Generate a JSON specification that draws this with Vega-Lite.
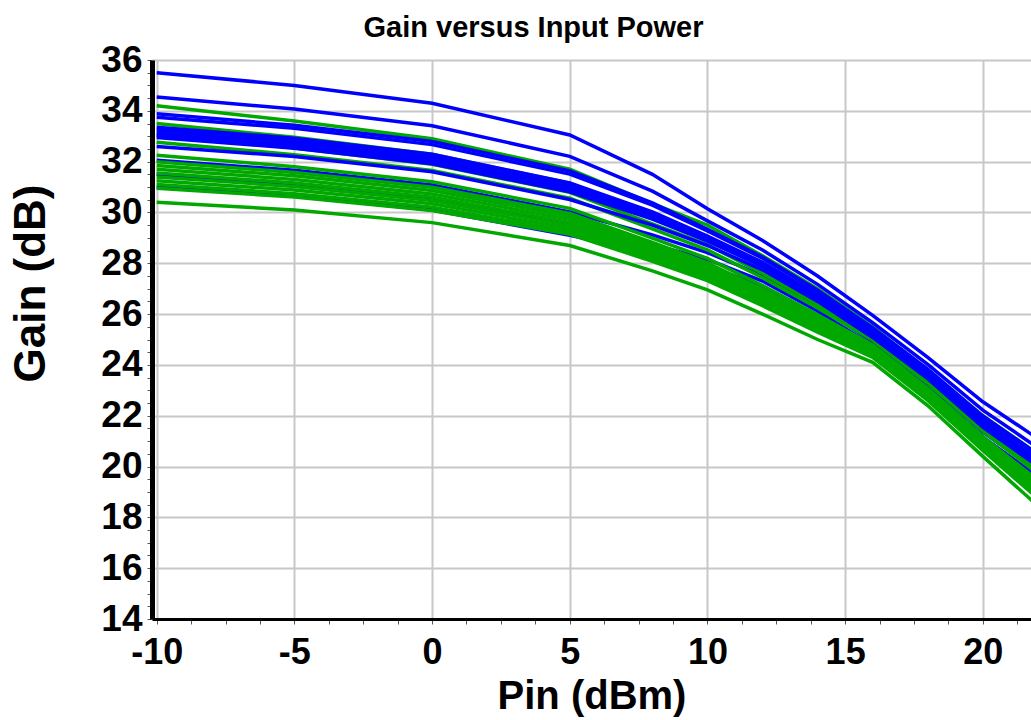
{
"$schema": "https://vega.github.io/schema/vega-lite/v6.json",
"width": 879, "height": 559,
"autosize": {"type": "none"},
"padding": {"left": 152, "top": 60, "right": 0, "bottom": 101},
"background": "white",
"title": {"text": "Gain versus Input Power", "font": "Liberation Sans", "fontSize": 29, "fontWeight": "bold", "color": "black", "frame": "group", "anchor": "middle", "dx": -58, "dy": 29, "baseline": "alphabetic", "offset": 4},
"config": {"view": {"stroke": null}},
"datasets": {
"curves": [
{"s":"b13","c":"blue","x":-10,"y":31.0},{"s":"b13","c":"blue","x":-5,"y":30.65},{"s":"b13","c":"blue","x":0,"y":30.1},{"s":"b13","c":"blue","x":5,"y":29.1},{"s":"b13","c":"blue","x":8,"y":28.4},{"s":"b13","c":"blue","x":10,"y":27.9},{"s":"b13","c":"blue","x":12,"y":27.1},{"s":"b13","c":"blue","x":14,"y":25.95},{"s":"b13","c":"blue","x":16,"y":24.6},{"s":"b13","c":"blue","x":18,"y":23.0},{"s":"b13","c":"blue","x":20,"y":21.0},{"s":"b13","c":"blue","x":22,"y":19.4},
{"s":"b12","c":"blue","x":-10,"y":31.5},{"s":"b12","c":"blue","x":-5,"y":31.13},{"s":"b12","c":"blue","x":0,"y":30.57},{"s":"b12","c":"blue","x":5,"y":29.54},{"s":"b12","c":"blue","x":8,"y":28.74},{"s":"b12","c":"blue","x":10,"y":28.15},{"s":"b12","c":"blue","x":12,"y":27.3},{"s":"b12","c":"blue","x":14,"y":26.12},{"s":"b12","c":"blue","x":16,"y":24.75},{"s":"b12","c":"blue","x":18,"y":23.14},{"s":"b12","c":"blue","x":20,"y":21.17},{"s":"b12","c":"blue","x":22,"y":19.59},
{"s":"b11","c":"blue","x":-10,"y":32.05},{"s":"b11","c":"blue","x":-5,"y":31.66},{"s":"b11","c":"blue","x":0,"y":31.08},{"s":"b11","c":"blue","x":5,"y":30.02},{"s":"b11","c":"blue","x":8,"y":29.12},{"s":"b11","c":"blue","x":10,"y":28.42},{"s":"b11","c":"blue","x":12,"y":27.52},{"s":"b11","c":"blue","x":14,"y":26.31},{"s":"b11","c":"blue","x":16,"y":24.91},{"s":"b11","c":"blue","x":18,"y":23.3},{"s":"b11","c":"blue","x":20,"y":21.36},{"s":"b11","c":"blue","x":22,"y":19.8},
{"s":"g14","c":"green","x":-10,"y":30.4},{"s":"g14","c":"green","x":-5,"y":30.1},{"s":"g14","c":"green","x":0,"y":29.6},{"s":"g14","c":"green","x":5,"y":28.7},{"s":"g14","c":"green","x":8,"y":27.7},{"s":"g14","c":"green","x":10,"y":26.95},{"s":"g14","c":"green","x":12,"y":26.0},{"s":"g14","c":"green","x":14,"y":25.0},{"s":"g14","c":"green","x":16,"y":24.1},{"s":"g14","c":"green","x":18,"y":22.4},{"s":"g14","c":"green","x":20,"y":20.4},{"s":"g14","c":"green","x":22,"y":18.45},
{"s":"g13","c":"green","x":-10,"y":30.95},{"s":"g13","c":"green","x":-5,"y":30.61},{"s":"g13","c":"green","x":0,"y":30.08},{"s":"g13","c":"green","x":5,"y":29.14},{"s":"g13","c":"green","x":8,"y":28.08},{"s":"g13","c":"green","x":10,"y":27.32},{"s":"g13","c":"green","x":12,"y":26.33},{"s":"g13","c":"green","x":14,"y":25.29},{"s":"g13","c":"green","x":16,"y":24.3},{"s":"g13","c":"green","x":18,"y":22.6},{"s":"g13","c":"green","x":20,"y":20.63},{"s":"g13","c":"green","x":22,"y":18.75},
{"s":"g12","c":"green","x":-10,"y":31.1},{"s":"g12","c":"green","x":-5,"y":30.74},{"s":"g12","c":"green","x":0,"y":30.21},{"s":"g12","c":"green","x":5,"y":29.25},{"s":"g12","c":"green","x":8,"y":28.19},{"s":"g12","c":"green","x":10,"y":27.42},{"s":"g12","c":"green","x":12,"y":26.42},{"s":"g12","c":"green","x":14,"y":25.37},{"s":"g12","c":"green","x":16,"y":24.36},{"s":"g12","c":"green","x":18,"y":22.66},{"s":"g12","c":"green","x":20,"y":20.69},{"s":"g12","c":"green","x":22,"y":18.83},
{"s":"g11","c":"green","x":-10,"y":31.25},{"s":"g11","c":"green","x":-5,"y":30.88},{"s":"g11","c":"green","x":0,"y":30.34},{"s":"g11","c":"green","x":5,"y":29.37},{"s":"g11","c":"green","x":8,"y":28.29},{"s":"g11","c":"green","x":10,"y":27.52},{"s":"g11","c":"green","x":12,"y":26.52},{"s":"g11","c":"green","x":14,"y":25.45},{"s":"g11","c":"green","x":16,"y":24.41},{"s":"g11","c":"green","x":18,"y":22.71},{"s":"g11","c":"green","x":20,"y":20.76},{"s":"g11","c":"green","x":22,"y":18.91},
{"s":"g10","c":"green","x":-10,"y":31.4},{"s":"g10","c":"green","x":-5,"y":31.02},{"s":"g10","c":"green","x":0,"y":30.47},{"s":"g10","c":"green","x":5,"y":29.49},{"s":"g10","c":"green","x":8,"y":28.4},{"s":"g10","c":"green","x":10,"y":27.62},{"s":"g10","c":"green","x":12,"y":26.6},{"s":"g10","c":"green","x":14,"y":25.53},{"s":"g10","c":"green","x":16,"y":24.47},{"s":"g10","c":"green","x":18,"y":22.77},{"s":"g10","c":"green","x":20,"y":20.82},{"s":"g10","c":"green","x":22,"y":18.99},
{"s":"g09","c":"green","x":-10,"y":31.55},{"s":"g09","c":"green","x":-5,"y":31.16},{"s":"g09","c":"green","x":0,"y":30.6},{"s":"g09","c":"green","x":5,"y":29.61},{"s":"g09","c":"green","x":8,"y":28.5},{"s":"g09","c":"green","x":10,"y":27.72},{"s":"g09","c":"green","x":12,"y":26.7},{"s":"g09","c":"green","x":14,"y":25.61},{"s":"g09","c":"green","x":16,"y":24.52},{"s":"g09","c":"green","x":18,"y":22.82},{"s":"g09","c":"green","x":20,"y":20.88},{"s":"g09","c":"green","x":22,"y":19.07},
{"s":"g08","c":"green","x":-10,"y":31.7},{"s":"g08","c":"green","x":-5,"y":31.3},{"s":"g08","c":"green","x":0,"y":30.73},{"s":"g08","c":"green","x":5,"y":29.73},{"s":"g08","c":"green","x":8,"y":28.61},{"s":"g08","c":"green","x":10,"y":27.82},{"s":"g08","c":"green","x":12,"y":26.79},{"s":"g08","c":"green","x":14,"y":25.68},{"s":"g08","c":"green","x":16,"y":24.58},{"s":"g08","c":"green","x":18,"y":22.88},{"s":"g08","c":"green","x":20,"y":20.95},{"s":"g08","c":"green","x":22,"y":19.15},
{"s":"g07","c":"green","x":-10,"y":31.85},{"s":"g07","c":"green","x":-5,"y":31.44},{"s":"g07","c":"green","x":0,"y":30.86},{"s":"g07","c":"green","x":5,"y":29.85},{"s":"g07","c":"green","x":8,"y":28.71},{"s":"g07","c":"green","x":10,"y":27.92},{"s":"g07","c":"green","x":12,"y":26.88},{"s":"g07","c":"green","x":14,"y":25.76},{"s":"g07","c":"green","x":16,"y":24.63},{"s":"g07","c":"green","x":18,"y":22.93},{"s":"g07","c":"green","x":20,"y":21.01},{"s":"g07","c":"green","x":22,"y":19.23},
{"s":"g06","c":"green","x":-10,"y":32.0},{"s":"g06","c":"green","x":-5,"y":31.57},{"s":"g06","c":"green","x":0,"y":30.99},{"s":"g06","c":"green","x":5,"y":29.96},{"s":"g06","c":"green","x":8,"y":28.82},{"s":"g06","c":"green","x":10,"y":28.02},{"s":"g06","c":"green","x":12,"y":26.97},{"s":"g06","c":"green","x":14,"y":25.84},{"s":"g06","c":"green","x":16,"y":24.69},{"s":"g06","c":"green","x":18,"y":22.99},{"s":"g06","c":"green","x":20,"y":21.07},{"s":"g06","c":"green","x":22,"y":19.31},
{"s":"g05","c":"green","x":-10,"y":32.25},{"s":"g05","c":"green","x":-5,"y":31.8},{"s":"g05","c":"green","x":0,"y":31.21},{"s":"g05","c":"green","x":5,"y":30.16},{"s":"g05","c":"green","x":8,"y":28.99},{"s":"g05","c":"green","x":10,"y":28.19},{"s":"g05","c":"green","x":12,"y":27.12},{"s":"g05","c":"green","x":14,"y":25.97},{"s":"g05","c":"green","x":16,"y":24.78},{"s":"g05","c":"green","x":18,"y":23.08},{"s":"g05","c":"green","x":20,"y":21.18},{"s":"g05","c":"green","x":22,"y":19.45},
{"s":"g04","c":"green","x":-10,"y":32.76},{"s":"g04","c":"green","x":-5,"y":32.27},{"s":"g04","c":"green","x":0,"y":31.65},{"s":"g04","c":"green","x":5,"y":30.56},{"s":"g04","c":"green","x":8,"y":29.35},{"s":"g04","c":"green","x":10,"y":28.53},{"s":"g04","c":"green","x":12,"y":27.43},{"s":"g04","c":"green","x":14,"y":26.24},{"s":"g04","c":"green","x":16,"y":24.97},{"s":"g04","c":"green","x":18,"y":23.27},{"s":"g04","c":"green","x":20,"y":21.39},{"s":"g04","c":"green","x":22,"y":19.72},
{"s":"g03","c":"green","x":-10,"y":33.05},{"s":"g03","c":"green","x":-5,"y":32.54},{"s":"g03","c":"green","x":0,"y":31.9},{"s":"g03","c":"green","x":5,"y":30.79},{"s":"g03","c":"green","x":8,"y":29.55},{"s":"g03","c":"green","x":10,"y":28.73},{"s":"g03","c":"green","x":12,"y":27.6},{"s":"g03","c":"green","x":14,"y":26.39},{"s":"g03","c":"green","x":16,"y":25.08},{"s":"g03","c":"green","x":18,"y":23.38},{"s":"g03","c":"green","x":20,"y":21.52},{"s":"g03","c":"green","x":22,"y":19.88},
{"s":"g02","c":"green","x":-10,"y":33.5},{"s":"g02","c":"green","x":-5,"y":32.96},{"s":"g02","c":"green","x":0,"y":32.29},{"s":"g02","c":"green","x":5,"y":31.15},{"s":"g02","c":"green","x":8,"y":29.86},{"s":"g02","c":"green","x":10,"y":29.03},{"s":"g02","c":"green","x":12,"y":27.88},{"s":"g02","c":"green","x":14,"y":26.63},{"s":"g02","c":"green","x":16,"y":25.24},{"s":"g02","c":"green","x":18,"y":23.54},{"s":"g02","c":"green","x":20,"y":21.71},{"s":"g02","c":"green","x":22,"y":20.12},
{"s":"g01","c":"green","x":-10,"y":34.2},{"s":"g01","c":"green","x":-5,"y":33.6},{"s":"g01","c":"green","x":0,"y":32.9},{"s":"g01","c":"green","x":5,"y":31.7},{"s":"g01","c":"green","x":8,"y":30.35},{"s":"g01","c":"green","x":10,"y":29.5},{"s":"g01","c":"green","x":12,"y":28.3},{"s":"g01","c":"green","x":14,"y":27.0},{"s":"g01","c":"green","x":16,"y":25.5},{"s":"g01","c":"green","x":18,"y":23.8},{"s":"g01","c":"green","x":20,"y":22.0},{"s":"g01","c":"green","x":22,"y":20.5},
{"s":"b10","c":"blue","x":-10,"y":32.6},{"s":"b10","c":"blue","x":-5,"y":32.2},{"s":"b10","c":"blue","x":0,"y":31.6},{"s":"b10","c":"blue","x":5,"y":30.51},{"s":"b10","c":"blue","x":8,"y":29.5},{"s":"b10","c":"blue","x":10,"y":28.7},{"s":"b10","c":"blue","x":12,"y":27.74},{"s":"b10","c":"blue","x":14,"y":26.5},{"s":"b10","c":"blue","x":16,"y":25.08},{"s":"b10","c":"blue","x":18,"y":23.46},{"s":"b10","c":"blue","x":20,"y":21.55},{"s":"b10","c":"blue","x":22,"y":20.01},
{"s":"b09","c":"blue","x":-10,"y":32.95},{"s":"b09","c":"blue","x":-5,"y":32.53},{"s":"b09","c":"blue","x":0,"y":31.92},{"s":"b09","c":"blue","x":5,"y":30.81},{"s":"b09","c":"blue","x":8,"y":29.74},{"s":"b09","c":"blue","x":10,"y":28.87},{"s":"b09","c":"blue","x":12,"y":27.88},{"s":"b09","c":"blue","x":14,"y":26.62},{"s":"b09","c":"blue","x":16,"y":25.18},{"s":"b09","c":"blue","x":18,"y":23.56},{"s":"b09","c":"blue","x":20,"y":21.67},{"s":"b09","c":"blue","x":22,"y":20.14},
{"s":"b08","c":"blue","x":-10,"y":33.05},{"s":"b08","c":"blue","x":-5,"y":32.63},{"s":"b08","c":"blue","x":0,"y":32.02},{"s":"b08","c":"blue","x":5,"y":30.9},{"s":"b08","c":"blue","x":8,"y":29.81},{"s":"b08","c":"blue","x":10,"y":28.93},{"s":"b08","c":"blue","x":12,"y":27.92},{"s":"b08","c":"blue","x":14,"y":26.66},{"s":"b08","c":"blue","x":16,"y":25.22},{"s":"b08","c":"blue","x":18,"y":23.59},{"s":"b08","c":"blue","x":20,"y":21.71},{"s":"b08","c":"blue","x":22,"y":20.18},
{"s":"b07","c":"blue","x":-10,"y":33.15},{"s":"b07","c":"blue","x":-5,"y":32.73},{"s":"b07","c":"blue","x":0,"y":32.11},{"s":"b07","c":"blue","x":5,"y":30.99},{"s":"b07","c":"blue","x":8,"y":29.88},{"s":"b07","c":"blue","x":10,"y":28.98},{"s":"b07","c":"blue","x":12,"y":27.96},{"s":"b07","c":"blue","x":14,"y":26.69},{"s":"b07","c":"blue","x":16,"y":25.25},{"s":"b07","c":"blue","x":18,"y":23.62},{"s":"b07","c":"blue","x":20,"y":21.74},{"s":"b07","c":"blue","x":22,"y":20.21},
{"s":"b06","c":"blue","x":-10,"y":33.25},{"s":"b06","c":"blue","x":-5,"y":32.83},{"s":"b06","c":"blue","x":0,"y":32.2},{"s":"b06","c":"blue","x":5,"y":31.08},{"s":"b06","c":"blue","x":8,"y":29.95},{"s":"b06","c":"blue","x":10,"y":29.03},{"s":"b06","c":"blue","x":12,"y":28.0},{"s":"b06","c":"blue","x":14,"y":26.73},{"s":"b06","c":"blue","x":16,"y":25.28},{"s":"b06","c":"blue","x":18,"y":23.65},{"s":"b06","c":"blue","x":20,"y":21.78},{"s":"b06","c":"blue","x":22,"y":20.25},
{"s":"b05","c":"blue","x":-10,"y":33.35},{"s":"b05","c":"blue","x":-5,"y":32.92},{"s":"b05","c":"blue","x":0,"y":32.29},{"s":"b05","c":"blue","x":5,"y":31.16},{"s":"b05","c":"blue","x":8,"y":30.02},{"s":"b05","c":"blue","x":10,"y":29.07},{"s":"b05","c":"blue","x":12,"y":28.04},{"s":"b05","c":"blue","x":14,"y":26.76},{"s":"b05","c":"blue","x":16,"y":25.3},{"s":"b05","c":"blue","x":18,"y":23.68},{"s":"b05","c":"blue","x":20,"y":21.81},{"s":"b05","c":"blue","x":22,"y":20.29},
{"s":"b04","c":"blue","x":-10,"y":33.75},{"s":"b04","c":"blue","x":-5,"y":33.31},{"s":"b04","c":"blue","x":0,"y":32.67},{"s":"b04","c":"blue","x":5,"y":31.51},{"s":"b04","c":"blue","x":8,"y":30.29},{"s":"b04","c":"blue","x":10,"y":29.27},{"s":"b04","c":"blue","x":12,"y":28.2},{"s":"b04","c":"blue","x":14,"y":26.9},{"s":"b04","c":"blue","x":16,"y":25.42},{"s":"b04","c":"blue","x":18,"y":23.79},{"s":"b04","c":"blue","x":20,"y":21.95},{"s":"b04","c":"blue","x":22,"y":20.44},
{"s":"b03","c":"blue","x":-10,"y":33.88},{"s":"b03","c":"blue","x":-5,"y":33.43},{"s":"b03","c":"blue","x":0,"y":32.79},{"s":"b03","c":"blue","x":5,"y":31.63},{"s":"b03","c":"blue","x":8,"y":30.38},{"s":"b03","c":"blue","x":10,"y":29.34},{"s":"b03","c":"blue","x":12,"y":28.25},{"s":"b03","c":"blue","x":14,"y":26.94},{"s":"b03","c":"blue","x":16,"y":25.46},{"s":"b03","c":"blue","x":18,"y":23.83},{"s":"b03","c":"blue","x":20,"y":21.99},{"s":"b03","c":"blue","x":22,"y":20.49},
{"s":"b02","c":"blue","x":-10,"y":34.54},{"s":"b02","c":"blue","x":-5,"y":34.07},{"s":"b02","c":"blue","x":0,"y":33.41},{"s":"b02","c":"blue","x":5,"y":32.21},{"s":"b02","c":"blue","x":8,"y":30.84},{"s":"b02","c":"blue","x":10,"y":29.67},{"s":"b02","c":"blue","x":12,"y":28.52},{"s":"b02","c":"blue","x":14,"y":27.17},{"s":"b02","c":"blue","x":16,"y":25.66},{"s":"b02","c":"blue","x":18,"y":24.02},{"s":"b02","c":"blue","x":20,"y":22.22},{"s":"b02","c":"blue","x":22,"y":20.74},
{"s":"b01","c":"blue","x":-10,"y":35.5},{"s":"b01","c":"blue","x":-5,"y":35.0},{"s":"b01","c":"blue","x":0,"y":34.3},{"s":"b01","c":"blue","x":5,"y":33.05},{"s":"b01","c":"blue","x":8,"y":31.5},{"s":"b01","c":"blue","x":10,"y":30.15},{"s":"b01","c":"blue","x":12,"y":28.9},{"s":"b01","c":"blue","x":14,"y":27.5},{"s":"b01","c":"blue","x":16,"y":25.95},{"s":"b01","c":"blue","x":18,"y":24.3},{"s":"b01","c":"blue","x":20,"y":22.55},{"s":"b01","c":"blue","x":22,"y":21.1}
]
},
"data": {"name": "curves"},
"mark": {"type": "line", "strokeWidth": 3.5, "clip": true},
"encoding": {
"x": {"field": "x", "type": "quantitative",
 "scale": {"domain": [-10.17, 21.75], "nice": false, "zero": false},
 "axis": {"title": "Pin (dBm)",
  "values": [-10,-8.75,-7.5,-6.25,-5,-3.75,-2.5,-1.25,0,1.25,2.5,3.75,5,6.25,7.5,8.75,10,11.25,12.5,13.75,15,16.25,17.5,18.75,20,21.25],
  "labelExpr": "datum.value % 5 === 0 ? '' + datum.value : ''",
  "labelFont": "Liberation Sans", "labelFontWeight": "bold", "labelFontSize": 36, "labelColor": "black",
  "labelBaseline": "alphabetic", "labelPadding": 39, "labelFlush": false, "labelOverlap": false, "labelBound": false,
  "domainColor": "black", "domainWidth": 3,
  "tickColor": "#555555", "tickSize": 5, "tickWidth": 1,
  "grid": true, "gridColor": "#c8c8c8", "gridWidth": 2,
  "gridOpacity": {"condition": {"test": "datum.value % 5 === 0", "value": 1}, "value": 0},
  "titleFont": "Liberation Sans", "titleFontWeight": "bold", "titleFontSize": 40, "titleColor": "black",
  "titleBaseline": "alphabetic", "titleY": 89}},
"y": {"field": "y", "type": "quantitative",
 "scale": {"domain": [14, 36], "nice": false, "zero": false},
 "axis": {"title": "Gain (dB)",
  "values": [14,14.5,15,15.5,16,16.5,17,17.5,18,18.5,19,19.5,20,20.5,21,21.5,22,22.5,23,23.5,24,24.5,25,25.5,26,26.5,27,27.5,28,28.5,29,29.5,30,30.5,31,31.5,32,32.5,33,33.5,34,34.5,35,35.5,36],
  "labelExpr": "datum.value % 2 === 0 ? '' + datum.value : ''",
  "labelFont": "Liberation Sans", "labelFontWeight": "bold", "labelFontSize": 37, "labelColor": "black",
  "labelPadding": 5, "labelOverlap": false, "labelBound": false, "labelFlush": false,
  "domainColor": "black", "domainWidth": 5,
  "tickColor": "#555555", "tickSize": 5, "tickWidth": 1,
  "grid": true, "gridColor": "#c8c8c8", "gridWidth": 2,
  "gridOpacity": {"condition": {"test": "datum.value % 2 === 0", "value": 1}, "value": 0},
  "titleFont": "Liberation Sans", "titleFontWeight": "bold", "titleFontSize": 44, "titleColor": "black",
  "titleBaseline": "alphabetic", "titleAlign": "center", "titleAngle": 270, "titleX": -108, "titleY": 223}},
"color": {"field": "c", "type": "nominal", "scale": {"domain": ["blue", "green"], "range": ["#0000ff", "#00a800"]}, "legend": null},
"detail": {"field": "s"}
}
}
